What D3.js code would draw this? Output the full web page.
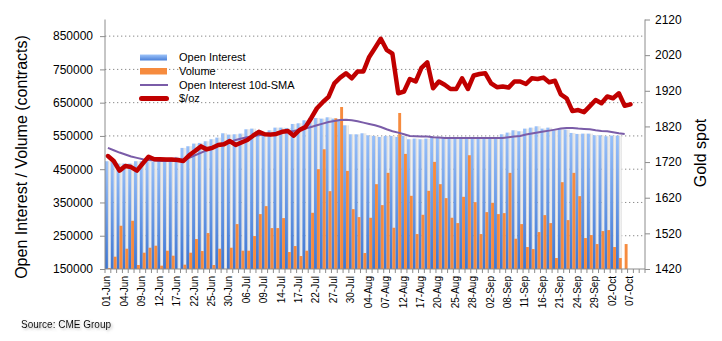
<!DOCTYPE html>
<html>
<head>
<meta charset="utf-8">
<script src="https://cdn.jsdelivr.net/npm/d3@7"></script>
<style>
body { margin: 0; background: #fff; }
svg { display: block; font-family: "Liberation Sans", Arial, sans-serif; }
</style>
</head>
<body>
<svg id="chart" width="722" height="341"></svg>
<script>
// trading days shown on the category axis
var dates = [
	"01-Jun","02-Jun","03-Jun","04-Jun","05-Jun","08-Jun","09-Jun","10-Jun","11-Jun","12-Jun",
	"15-Jun","16-Jun","17-Jun","18-Jun","19-Jun","22-Jun","23-Jun","24-Jun","25-Jun","26-Jun",
	"29-Jun","30-Jun","01-Jul","02-Jul","06-Jul","07-Jul","08-Jul","09-Jul","10-Jul","13-Jul",
	"14-Jul","15-Jul","16-Jul","17-Jul","20-Jul","21-Jul","22-Jul","23-Jul","24-Jul","27-Jul",
	"28-Jul","29-Jul","30-Jul","31-Jul","03-Aug","04-Aug","05-Aug","06-Aug","07-Aug","10-Aug",
	"11-Aug","12-Aug","13-Aug","14-Aug","17-Aug","18-Aug","19-Aug","20-Aug","21-Aug","24-Aug",
	"25-Aug","26-Aug","27-Aug","28-Aug","31-Aug","01-Sep","02-Sep","03-Sep","04-Sep","08-Sep",
	"09-Sep","10-Sep","11-Sep","14-Sep","15-Sep","16-Sep","17-Sep","18-Sep","21-Sep","22-Sep",
	"23-Sep","24-Sep","25-Sep","28-Sep","29-Sep","30-Sep","01-Oct","02-Oct","05-Oct","06-Oct",
	"07-Oct","08-Oct","09-Oct"
];

// contracts
var openInterest = [
	474000,472000,467000,467000,467000,474000,474000,474000,472000,482000,
	484000,484000,487000,514000,519000,527000,529000,534000,540000,545000,
	558000,554000,555000,557000,570000,572000,564000,562000,567000,575000,
	575000,574000,586000,588000,597000,605000,604000,602000,606000,602000,
	600000,582000,555000,555000,558000,552000,550000,547000,550000,550000,
	547000,550000,540000,542000,540000,542000,547000,547000,547000,547000,
	547000,547000,547000,547000,547000,547000,547000,547000,555000,560000,
	567000,564000,572000,575000,579000,572000,575000,567000,572000,569000,
	559000,556000,557000,557000,552000,552000,549000,551000,551000
];

var volume = [
	153000,187000,280000,211000,295000,162000,199000,214000,220000,160000,
	205000,190000,148000,163000,199000,240000,204000,258000,162000,211000,
	148000,214000,285000,205000,205000,249000,315000,339000,273000,273000,
	303000,201000,219000,189000,205000,319000,450000,510000,384000,603000,
	637000,445000,330000,306000,198000,304000,405000,342000,439000,274000,
	619000,496000,370000,255000,313000,385000,472000,405000,363000,304000,
	288000,367000,492000,351000,255000,321000,349000,315000,318000,439000,
	241000,285000,216000,210000,261000,312000,288000,183000,411000,297000,
	439000,369000,243000,252000,225000,264000,267000,216000,183000,225000
];

var oiSma = [
	514000,507000,500000,494000,488000,484000,480000,478000,476000,475000,
	475000,475000,475000,476000,484000,492000,499000,507000,514000,520000,
	527000,532000,538000,542000,546000,550000,552000,554000,557000,558000,
	560000,562000,565000,569000,572000,577000,582000,587000,592000,595000,
	598000,599000,597000,594000,590000,586000,582000,577000,570000,564000,
	560000,555000,550000,549000,548000,548000,546000,545000,544000,544000,
	544000,544000,544000,544000,544000,544000,544000,544000,544000,546000,
	548000,550000,554000,557000,560000,563000,566000,569000,572000,574000,
	574000,572000,571000,570000,567000,565000,564000,561000,558000,556000
];

// $/oz
var goldSpot = [
	1737,1723,1696,1709,1706,1696,1716,1735,1728,1728,
	1727,1727,1726,1723,1739,1751,1764,1756,1760,1768,
	1770,1779,1768,1775,1782,1794,1805,1798,1797,1799,
	1805,1807,1794,1810,1818,1843,1871,1888,1903,1941,
	1957,1969,1955,1974,1974,2015,2040,2066,2035,2024,
	1913,1918,1953,1946,1984,2000,1927,1946,1937,1925,
	1925,1955,1925,1963,1967,1969,1941,1930,1932,1929,
	1946,1946,1939,1955,1953,1957,1944,1948,1910,1899,
	1863,1866,1860,1877,1894,1885,1904,1899,1913,1878,
	1882
];

var leftTicks = [150000,250000,350000,450000,550000,650000,750000,850000];
var rightTicks = [1420,1520,1620,1720,1820,1920,2020,2120];
var legendNames = ["Open Interest", "Volume", "Open Interest 10d-SMA", "$/oz"];

(function() {
	var svg = d3.select("#chart"),
		pLeft = 105, pRight = 645, pTop = 19.5, pBottom = 269;

	var x = d3.scaleBand().domain(dates).range([pLeft, pRight]).padding(0),
		yL = d3.scaleLinear().domain([150000, 900000]).range([pBottom, pTop]),
		yR = d3.scaleLinear().domain([1420, 2120]).range([pBottom, pTop]),
		bw = x.bandwidth();

	var defs = svg.append("defs");

	var blue = defs.append("linearGradient").attr("id", "blueGrad")
		.attr("x1", 0).attr("y1", 0).attr("x2", 0).attr("y2", 1);
	blue.append("stop").attr("offset", "0%").attr("stop-color", "#97bff9");
	blue.append("stop").attr("offset", "100%").attr("stop-color", "#3c75d2");

	var shade = defs.append("linearGradient").attr("id", "shadeGrad")
		.attr("x1", 0).attr("y1", 0).attr("x2", 1).attr("y2", 0);
	shade.append("stop").attr("offset", "0%").attr("stop-color", "#cfcfcf");
	shade.append("stop").attr("offset", "55%").attr("stop-color", "#f1f1f1");
	shade.append("stop").attr("offset", "100%").attr("stop-color", "#dedede");

	var legBlue = defs.append("linearGradient").attr("id", "legBlue")
		.attr("x1", 0).attr("y1", 0).attr("x2", 0).attr("y2", 1);
	legBlue.append("stop").attr("offset", "0%").attr("stop-color", "#9ec4fa");
	legBlue.append("stop").attr("offset", "100%").attr("stop-color", "#4a80d8");

	var soft = defs.append("filter").attr("id", "soft")
		.attr("x", "-20%").attr("y", "-50%").attr("width", "140%").attr("height", "200%");
	soft.append("feDropShadow").attr("dx", 1.5).attr("dy", 1.5)
		.attr("stdDeviation", 1).attr("flood-color", "#777").attr("flood-opacity", 0.55);

	// dotted gridlines behind the bars
	svg.append("g").selectAll("line")
		.data(leftTicks.slice(1))
		.enter().append("line")
		.attr("x1", pLeft).attr("x2", pRight)
		.attr("y1", function(d) { return yL(d); })
		.attr("y2", function(d) { return yL(d); })
		.attr("stroke", "#8a8a8a")
		.attr("stroke-width", 1)
		.attr("stroke-dasharray", "1.3,2.7");

	var oiData = openInterest.map(function(v, i) { return {d: dates[i], v: v}; }),
		volData = volume.map(function(v, i) { return {d: dates[i], v: v}; });

	// shadow of the open interest columns, falls into the right half of each slot
	svg.append("g").selectAll("rect")
		.data(oiData)
		.enter().append("rect")
		.attr("x", function(d) { return x(d.d) + bw / 2; })
		.attr("width", bw / 2)
		.attr("y", function(d) { return yL(d.v); })
		.attr("height", function(d) { return pBottom - yL(d.v); })
		.attr("fill", "url(#shadeGrad)");

	svg.append("g").selectAll("rect")
		.data(oiData)
		.enter().append("rect")
		.attr("x", function(d) { return x(d.d); })
		.attr("width", bw / 2)
		.attr("y", function(d) { return yL(d.v); })
		.attr("height", function(d) { return pBottom - yL(d.v); })
		.attr("fill", "url(#blueGrad)");

	svg.append("g").selectAll("rect")
		.data(volData)
		.enter().append("rect")
		.attr("x", function(d) { return x(d.d) + bw / 2; })
		.attr("width", bw / 2)
		.attr("y", function(d) { return Math.min(pBottom, yL(d.v)); })
		.attr("height", function(d) { return Math.max(0, pBottom - yL(d.v)); })
		.attr("fill", "#f68b3e");

	// lines
	var mid = function(d) { return x(d) + bw / 2; };

	var smaLine = d3.line()
		.x(function(d, i) { return mid(dates[i]); })
		.y(function(d) { return yL(d); });

	svg.append("path")
		.datum(oiSma)
		.attr("d", smaLine)
		.attr("fill", "none")
		.attr("stroke", "#7a5ca8")
		.attr("stroke-width", 2);

	var goldLine = d3.line()
		.x(function(d, i) { return mid(dates[i]); })
		.y(function(d) { return yR(d); });

	svg.append("path")
		.datum(goldSpot)
		.attr("d", goldLine)
		.attr("fill", "none")
		.attr("stroke", "#c00000")
		.attr("stroke-width", 4.5)
		.attr("stroke-linejoin", "round")
		.attr("stroke-linecap", "round");

	// axes
	var axisColor = "#8c8c8c";

	var gL = svg.append("g")
		.attr("transform", "translate(" + pLeft + ",0)")
		.call(d3.axisLeft(yL).tickValues(leftTicks).tickSize(5).tickPadding(7).tickFormat(d3.format("d")));
	gL.select(".domain").attr("d", "M0," + pTop + "V" + pBottom).attr("stroke", axisColor);
	gL.selectAll(".tick line").attr("stroke", axisColor);
	gL.selectAll("text").attr("font-size", 12).attr("fill", "#000");
	gL.attr("font-family", null);

	var gR = svg.append("g")
		.attr("transform", "translate(" + pRight + ",0)")
		.call(d3.axisRight(yR).tickValues(rightTicks).tickSize(5).tickPadding(5).tickFormat(d3.format("d")));
	gR.select(".domain").attr("d", "M0," + pTop + "V" + pBottom).attr("stroke", axisColor);
	gR.selectAll(".tick line").attr("stroke", axisColor);
	gR.selectAll("text").attr("font-size", 12).attr("fill", "#000");
	gR.attr("font-family", null);

	// category axis: ticks on slot boundaries, a label every third day
	svg.append("line")
		.attr("x1", pLeft).attr("x2", pRight)
		.attr("y1", pBottom).attr("y2", pBottom)
		.attr("stroke", axisColor);

	svg.append("g").selectAll("line")
		.data(dates.concat([null]))
		.enter().append("line")
		.attr("x1", function(d) { return d ? x(d) : pRight; })
		.attr("x2", function(d) { return d ? x(d) : pRight; })
		.attr("y1", pBottom).attr("y2", pBottom + 4)
		.attr("stroke", axisColor);

	var labelDates = dates.filter(function(d, i) { return i % 3 === 0; });

	var gX = svg.append("g")
		.attr("transform", "translate(0," + pBottom + ")")
		.call(d3.axisBottom(x).tickValues(labelDates).tickSize(0));
	gX.attr("font-family", null);
	gX.select(".domain").remove();
	gX.selectAll("text")
		.attr("font-size", 10)
		.attr("fill", "#000")
		.attr("transform", "rotate(-90)")
		.attr("text-anchor", "end")
		.attr("x", -7)
		.attr("y", -1)
		.attr("dy", "0.35em");

	// axis titles
	svg.append("text")
		.attr("transform", "translate(26.5,157) rotate(-90)")
		.attr("text-anchor", "middle")
		.attr("font-size", 16)
		.text("Open Interest / Volume (contracts)");

	svg.append("text")
		.attr("transform", "translate(705.5,153) rotate(-90)")
		.attr("text-anchor", "middle")
		.attr("font-size", 16)
		.text("Gold spot");

	svg.append("text")
		.attr("x", 21).attr("y", 328)
		.attr("font-size", 10)
		.attr("filter", "url(#soft)")
		.text("Source: CME Group");

	// legend
	var legend = svg.append("g").attr("transform", "translate(140,0)");
	var rowY = [57.5, 71, 85, 98.5];

	legend.append("rect").attr("x", 0).attr("y", rowY[0] - 3).attr("width", 27).attr("height", 6)
		.attr("fill", "url(#legBlue)");
	legend.append("rect").attr("x", 0).attr("y", rowY[1] - 3).attr("width", 27).attr("height", 6.5)
		.attr("fill", "#f68b3e");
	legend.append("line").attr("x1", 0).attr("x2", 28).attr("y1", rowY[2]).attr("y2", rowY[2])
		.attr("stroke", "#7a5ca8").attr("stroke-width", 2);
	legend.append("line").attr("x1", 1.5).attr("x2", 26.5).attr("y1", rowY[3]).attr("y2", rowY[3])
		.attr("stroke", "#c00000").attr("stroke-width", 5).attr("stroke-linecap", "round");

	legend.selectAll("text.leg")
		.data(legendNames)
		.enter().append("text")
		.attr("class", "leg")
		.attr("x", 39)
		.attr("y", function(d, i) { return rowY[i]; })
		.attr("dy", "0.35em")
		.attr("font-size", 11)
		.text(function(d) { return d; });
})();
</script>
</body>
</html>
